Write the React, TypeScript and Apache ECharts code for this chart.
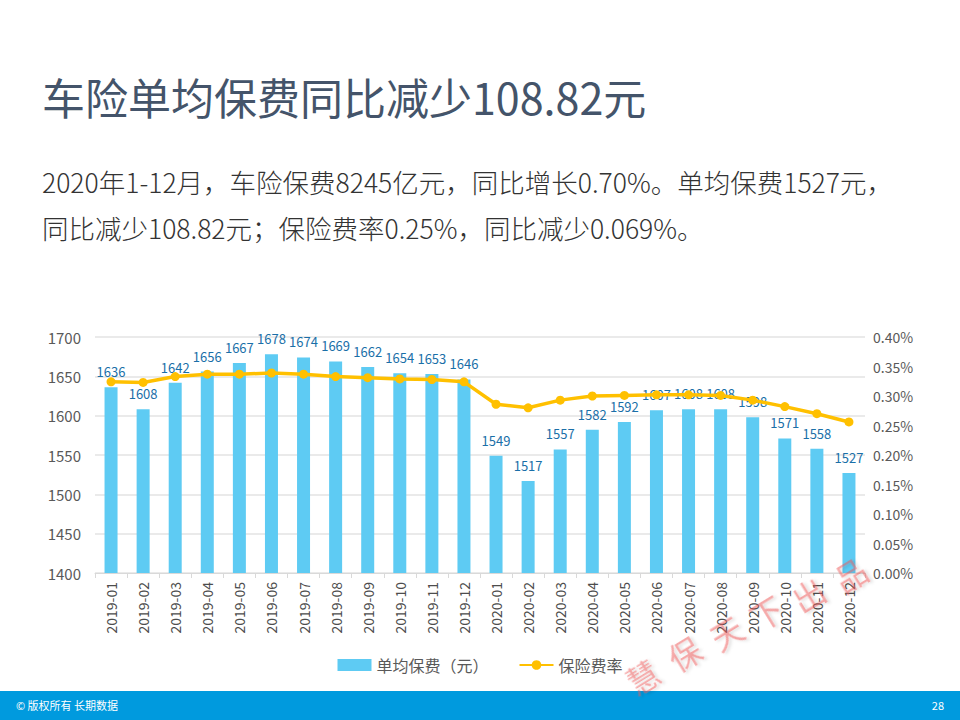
import React, { useEffect, useRef } from "react";
import * as echarts from "echarts";

const categories = [
  "2019-01", "2019-02", "2019-03", "2019-04", "2019-05", "2019-06",
  "2019-07", "2019-08", "2019-09", "2019-10", "2019-11", "2019-12",
  "2020-01", "2020-02", "2020-03", "2020-04", "2020-05", "2020-06",
  "2020-07", "2020-08", "2020-09", "2020-10", "2020-11", "2020-12",
];
const avgPremium = [
  1636, 1608, 1642, 1656, 1667, 1678, 1674, 1669, 1662, 1654, 1653, 1646,
  1549, 1517, 1557, 1582, 1592, 1607, 1608, 1608, 1598, 1571, 1558, 1527,
];
const premiumRate = [
  0.324, 0.323, 0.333, 0.337, 0.337, 0.339, 0.337, 0.333, 0.331, 0.329, 0.328, 0.324,
  0.286, 0.280, 0.293, 0.300, 0.301, 0.302, 0.302, 0.301, 0.293, 0.282, 0.270, 0.256,
];
const seriesNames = ["单均保费（元）", "保险费率"];
const titleText = "车险单均保费同比减少108.82元";
const subtitleLines = [
  "2020年1-12月，车险保费8245亿元，同比增长0.70%。单均保费1527元，",
  "同比减少108.82元；保险费率0.25%，同比减少0.069%。",
];
const footerLeft = "© 版权所有 长期数据";
const pageNumber = "28";
const watermarkChars = ["慧", "保", "天", "下", "出", "品"];

const FONT = "'Noto Sans CJK SC', 'Noto Sans', sans-serif";

export default function App() {
  const ref = useRef<HTMLDivElement>(null);

  useEffect(() => {
    if (!ref.current) return;
    const chart = echarts.init(ref.current, undefined, { renderer: "svg" });

    const wmPos = [
      [642, 676], [684, 653], [726, 632], [766, 612], [808, 594], [850, 574],
    ];

    const option: any = {
      animation: false,
      backgroundColor: "#ffffff",
      textStyle: { fontFamily: FONT },
      grid: { left: 95, right: 95, top: 337, bottom: 147, containLabel: false },
      legend: {
        top: 652,
        left: "center",
        itemWidth: 34,
        itemHeight: 12,
        itemGap: 30,
        textStyle: { fontSize: 16, color: "#595959", fontFamily: FONT },
        data: [
          { name: seriesNames[0], icon: "rect" },
          { name: seriesNames[1] },
        ],
      },
      xAxis: {
        type: "category",
        data: categories,
        axisLine: { lineStyle: { color: "#d9d9d9" } },
        axisTick: { show: true, lineStyle: { color: "#d9d9d9" }, length: 5 },
        axisLabel: {
          rotate: 90,
          fontSize: 14,
          color: "#4d4d4d",
          margin: 9,
          interval: 0,
          fontFamily: FONT,
        },
      },
      yAxis: [
        {
          type: "value",
          min: 1400,
          max: 1700,
          interval: 50,
          axisLine: { show: false },
          axisTick: { show: false },
          axisLabel: {
            fontSize: 15,
            color: "#595959",
            margin: 14,
            fontFamily: FONT,
            formatter: (v: number) => String(v),
          },
          splitLine: { lineStyle: { color: "#e3e3e3", width: 1.5 } },
        },
        {
          type: "value",
          min: 0,
          max: 0.4,
          interval: 0.05,
          axisLine: { show: false },
          axisTick: { show: false },
          axisLabel: {
            fontSize: 14,
            color: "#595959",
            margin: 8,
            fontFamily: FONT,
            formatter: (v: number) => v.toFixed(2) + "%",
          },
          splitLine: { show: false },
        },
      ],
      series: [
        {
          name: seriesNames[0],
          type: "bar",
          data: avgPremium,
          barWidth: 13,
          itemStyle: { color: "#5ecbf3" },
          label: {
            show: true,
            position: "top",
            distance: 9,
            fontSize: 13,
            color: "#1a6fa8",
            fontFamily: FONT,
          },
          z: 2,
        },
        {
          name: seriesNames[1],
          type: "line",
          yAxisIndex: 1,
          data: premiumRate,
          symbol: "circle",
          symbolSize: 9,
          lineStyle: { color: "#ffc000", width: 3.5 },
          itemStyle: { color: "#ffc000" },
          z: 3,
        },
      ],
      graphic: [
        {
          type: "text",
          left: 42,
          top: 74,
          style: {
            text: titleText,
            fontSize: 43,
            fill: "#44546a",
            fontFamily: FONT,
          },
        },
        {
          type: "text",
          left: 42,
          top: 168,
          style: {
            text: subtitleLines[0],
            fontSize: 26.5,
            fill: "#333333",
            fontFamily: FONT,
            fontWeight: 300,
          },
        },
        {
          type: "text",
          left: 42,
          top: 214,
          style: {
            text: subtitleLines[1],
            fontSize: 26.5,
            fill: "#333333",
            fontFamily: FONT,
            fontWeight: 300,
          },
        },
        {
          type: "rect",
          shape: { x: 0, y: 691, width: 960, height: 29 },
          style: { fill: "#009ade" },
          z: 10,
        },
        {
          type: "text",
          x: 16,
          y: 705,
          style: {
            text: footerLeft,
            fontSize: 11,
            fill: "#ffffff",
            fontFamily: FONT,
            verticalAlign: "middle",
          },
          z: 11,
        },
        {
          type: "text",
          x: 944,
          y: 705,
          style: {
            text: pageNumber,
            fontSize: 11,
            fill: "#ffffff",
            fontFamily: FONT,
            align: "right",
            verticalAlign: "middle",
          },
          z: 11,
        },
        ...watermarkChars.map((c, i) => ({
          type: "text",
          x: wmPos[i][0],
          y: wmPos[i][1],
          rotation: 0.55,
          style: {
            text: c,
            fontSize: 32,
            fill: "rgba(240,90,90,0.5)",
            fontFamily: FONT,
            align: "center",
            verticalAlign: "middle",
            textShadowColor: "rgba(0,0,0,0.25)",
            textShadowBlur: 3,
            textShadowOffsetX: 2,
            textShadowOffsetY: 2,
          },
          z: 12,
        })),
      ],
    };

    chart.setOption(option);
    return () => chart.dispose();
  }, []);

  return (
    <div
      ref={ref}
      style={{ position: "fixed", left: 0, top: 0, width: 960, height: 720 }}
    />
  );
}
